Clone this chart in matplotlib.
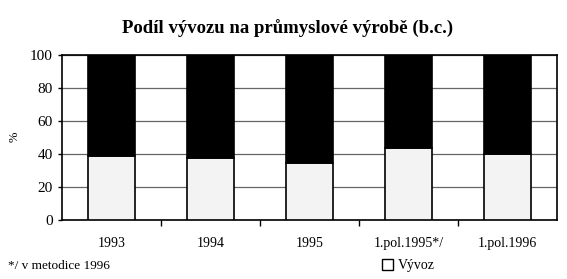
import numpy as np
import matplotlib.pyplot as plt
from matplotlib.patches import Patch

# data
categories = ["1993", "1994", "1995", "1.pol.1995*/", "1.pol.1996"]
vyvoz = [38.5, 37.5, 34.5, 43.5, 40]
zbytek = [100 - v for v in vyvoz]

plt.rcParams['font.family'] = ['Liberation Serif', 'DejaVu Serif']

fig = plt.figure(figsize=(5.67, 2.79), dpi=100)
ax = fig.add_axes([0.1093, 0.2115, 0.873, 0.5915])

x = np.arange(len(categories))
ax.bar(x, vyvoz, width=0.48, color='#f3f3f3', edgecolor='black', linewidth=1.2, zorder=3)
ax.bar(x, zbytek, bottom=vyvoz, width=0.48, color='black', edgecolor='black', linewidth=1.2, zorder=3)

ax.set_xlim(-0.5, len(categories) - 0.5)
ax.set_ylim(0, 100)
ax.set_yticks([0, 20, 40, 60, 80, 100])
ax.tick_params(axis='y', labelsize=11, length=3, width=1)
ax.set_xticks(x)
ax.set_xticklabels(categories, fontsize=10)
ax.tick_params(axis='x', length=0, pad=12)
ax.set_xticks(np.arange(0.5, len(categories) - 0.5, 1), minor=True)
ax.tick_params(axis='x', which='minor', length=4, width=1)
ax.grid(axis='y', color='#666666', linewidth=0.9, zorder=0)
for s in ax.spines.values():
    s.set_linewidth(1.2)
fig.text(0.025, 0.51, "%", rotation=90, ha='center', va='center', fontsize=9)

fig.text(0.508, 0.895, "Podíl vývozu na průmyslové výrobě (b.c.)", ha='center', va='center',
         fontsize=13.5, fontweight='bold')
fig.text(0.014, 0.047, "*/ v metodice 1996", ha='left', va='center', fontsize=9.5)
fig.legend(handles=[Patch(facecolor='white', edgecolor='black', label='Vývoz')],
           loc='center', bbox_to_anchor=(0.72, 0.047), frameon=False, fontsize=10,
           handlelength=0.8, handleheight=0.8, handletextpad=0.3)

fig.savefig("out.png", dpi=100)
